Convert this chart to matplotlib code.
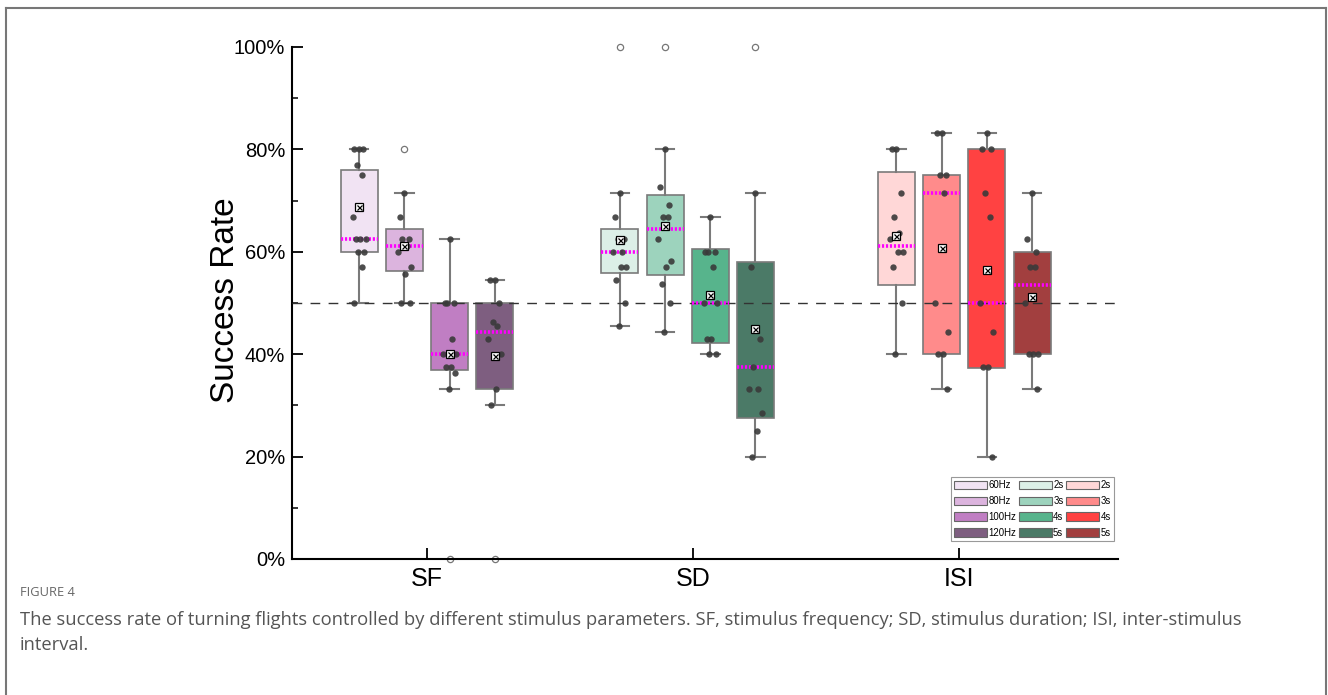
import numpy as np
import matplotlib.pyplot as plt
from matplotlib.patches import Patch
from matplotlib.lines import Line2D

plt.rcParams['font.family'] = ['Liberation Sans', 'DejaVu Sans']

# groups and boxes (SF: frequency, SD: duration, ISI: inter-stimulus interval)
groups = ['SF', 'SD', 'ISI']
box_labels = ['60Hz', '80Hz', '100Hz', '120Hz',
              '2s', '3s', '4s', '5s',
              '2s', '3s', '4s', '5s']
box_colors = ['#f1e3f3', '#dcb4de', '#c07ec3', '#7e5e80',
              '#dcefe7', '#9dd3bd', '#57b48c', '#4b7a67',
              '#ffd7d7', '#ff8b8b', '#ff4242', '#a23f3f']

# individual success rates (%) per box
points = [
    [80, 80, 80, 76.9, 75, 66.7, 62.5, 62.5, 62.5, 60, 60, 57.1, 50],
    [71.4, 66.7, 62.5, 62.5, 61.1, 60, 57.1, 55.6, 50, 50],
    [62.5, 50, 50, 50, 42.9, 40, 40, 37.5, 37.5, 36.4, 33.3],
    [54.5, 54.5, 50, 46.2, 45.5, 42.9, 40, 33.3, 30],
    [71.4, 66.7, 62.5, 62.5, 60, 60, 57.1, 57.1, 54.5, 50, 45.5],
    [80, 72.7, 69.2, 66.7, 66.7, 62.5, 58.3, 57.1, 53.8, 50, 44.4],
    [66.7, 60, 60, 60, 57.1, 50, 50, 42.9, 42.9, 40, 40],
    [71.4, 57.1, 42.9, 37.5, 33.3, 33.3, 28.6, 25, 20],
    [80, 80, 71.4, 66.7, 63.6, 62.5, 60, 60, 57.1, 50, 40],
    [83.3, 83.3, 75, 75, 71.4, 50, 44.4, 40, 40, 33.3],
    [83.3, 80, 80, 71.4, 66.7, 50, 44.4, 37.5, 37.5, 20],
    [71.4, 62.5, 60, 57.1, 57.1, 50, 40, 40, 40, 33.3],
]
fliers = [[], [80], [0], [0], [100], [100], [], [100], [], [], [], []]

# box statistics
q1 = [60, 56.3, 36.9, 33.3, 55.8, 55.5, 42.2, 27.6, 53.6, 40, 37.4, 40]
med = [62.5, 61.1, 40, 44.4, 60, 64.5, 50, 37.5, 61.2, 71.4, 50, 53.6]
q3 = [75.9, 64.5, 50, 50, 64.5, 71.0, 60.5, 58.1, 75.6, 75, 80, 60]
whislo = [50, 50, 33.3, 30, 45.5, 44.4, 40, 20, 40, 33.3, 20, 33.3]
whishi = [80, 71.4, 62.5, 54.5, 71.4, 80, 66.7, 71.4, 80, 83.3, 83.3, 71.4]
means = [68.75, 61.2, 40, 39.6, 62.3, 65.1, 51.6, 44.9, 63.1, 60.7, 56.4, 51.1]

group_centers = [1.0, 1.98, 3.02]
offsets = [-0.255, -0.085, 0.085, 0.255]
positions = [c + o for c in group_centers for o in offsets]
jitter = np.array([0.0, -0.018, 0.016, -0.008, 0.01, -0.025, 0.024,
                   0.004, -0.013, 0.02, -0.004, 0.012, -0.02])

fig = plt.figure(figsize=(13.28, 6.95), dpi=100)
ax = fig.add_axes([292 / 1328, 1 - 559 / 695, (1118 - 292) / 1328, (559 - 47) / 695])

stats = []
for i in range(len(points)):
    stats.append(dict(med=med[i], q1=q1[i], q3=q3[i], whislo=whislo[i],
                      whishi=whishi[i], mean=means[i], fliers=np.array(fliers[i], dtype=float)))

grey = '#7a7a7a'
bp = ax.bxp(stats, positions=positions, widths=0.139, capwidths=0.07,
            patch_artist=True, showmeans=True, showfliers=True,
            boxprops=dict(edgecolor=grey, linewidth=1.2),
            whiskerprops=dict(color=grey, linewidth=1.5),
            capprops=dict(color=grey, linewidth=1.5),
            medianprops=dict(color='#ff00ff', linewidth=2.6, linestyle=(0, (0.6, 0.5)), zorder=2.7),
            meanprops=dict(marker='s', markerfacecolor='white', markeredgecolor='black',
                           markersize=6, markeredgewidth=0.9, zorder=5),
            flierprops=dict(marker='o', markerfacecolor='white', markeredgecolor='#777777',
                            markersize=4.5, markeredgewidth=0.9))
for patch, col in zip(bp['boxes'], box_colors):
    patch.set_facecolor(col)
for fl in bp['fliers']:
    fl.set_clip_on(False)

ax.plot(positions, means, linestyle='none', marker='x', color='black',
        markersize=3.6, markeredgewidth=0.9, zorder=6)

for i, vals in enumerate(points):
    xs = positions[i] + jitter[:len(vals)]
    ax.scatter(xs, vals, s=21, color='#3a3a3a', alpha=0.9, linewidths=0, zorder=4)

ax.axhline(50, color='#333333', linewidth=1, linestyle=(0, (7, 6)), zorder=2.6)

ax.set_xlim(0.4925, 3.598)
ax.set_ylim(0, 100)
ax.set_xticks([1, 2, 3])
ax.set_xticklabels(groups)
ax.set_yticks(np.arange(0, 101, 20))
ax.set_yticklabels(['{}%'.format(v) for v in range(0, 101, 20)])
ax.set_yticks(np.arange(10, 100, 20), minor=True)
ax.tick_params(axis='y', which='major', direction='in', length=8, width=1.3, labelsize=14.5, pad=5)
ax.tick_params(axis='y', which='minor', direction='in', length=4, width=1.1)
ax.tick_params(axis='x', which='major', direction='in', length=8, width=1.3, labelsize=18, pad=6)
for s in ['top', 'right']:
    ax.spines[s].set_visible(False)
for s in ['left', 'bottom']:
    ax.spines[s].set_linewidth(1.5)
    ax.spines[s].set_color('black')

fig.text(226 / 1328, 1 - 300 / 695, 'Success Rate', rotation=90, ha='center', va='center', fontsize=24)

handles = [Patch(facecolor=c, edgecolor='#666666', linewidth=0.8) for c in box_colors]
leg = ax.legend(handles, box_labels, ncol=3, loc='upper left',
                bbox_to_anchor=(951 / 1328, 1 - 477 / 695), bbox_transform=fig.transFigure,
                borderaxespad=0, handlelength=3.4, handleheight=1.0,
                handletextpad=0.15, columnspacing=0.3, labelspacing=0.6, borderpad=0.35,
                fancybox=False, framealpha=1, prop={'size': 6.9})
leg.get_frame().set_edgecolor('#999999')
leg.get_frame().set_linewidth(0.8)

# page frame and caption
frame_col = '#777777'
fig.add_artist(Line2D([5.5 / 1328, 5.5 / 1328], [0, 1 - 7.5 / 695], color=frame_col, lw=1.5))
fig.add_artist(Line2D([5.5 / 1328, 1325.5 / 1328], [1 - 7.5 / 695, 1 - 7.5 / 695], color=frame_col, lw=1.5))
fig.add_artist(Line2D([1325.5 / 1328, 1325.5 / 1328], [0, 1 - 7.5 / 695], color=frame_col, lw=1.5))

fig.text(20 / 1328, 1 - 593 / 695, 'FIGURE 4', fontsize=9.3, color='#666666',
         family=['Open Sans', 'DejaVu Sans'], va='center')
fig.text(20 / 1328, 1 - 620 / 695,
         'The success rate of turning flights controlled by different stimulus parameters. '
         'SF, stimulus frequency; SD, stimulus duration; ISI, inter-stimulus',
         fontsize=13.2, color='#555555', family=['Open Sans', 'DejaVu Sans'], va='center')
fig.text(20 / 1328, 1 - 645 / 695, 'interval.', fontsize=13.2, color='#555555',
         family=['Open Sans', 'DejaVu Sans'], va='center')

plt.savefig('out.png', dpi=100)
